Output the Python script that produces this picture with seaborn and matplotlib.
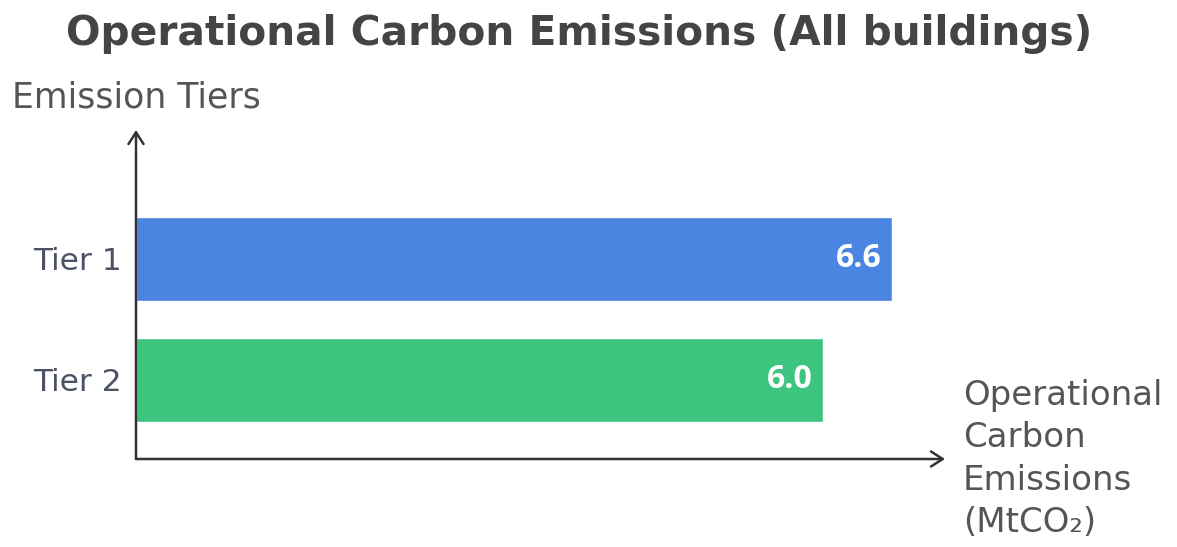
import matplotlib
matplotlib.use("Agg")
import matplotlib.pyplot as plt
import seaborn as sns
import pandas as pd

# Chart data
tiers = ["Tier 1", "Tier 2"]
emissions = [6.6, 6.0]
value_labels = ["6.6", "6.0"]
bar_colors = ["#4A86E1", "#3DC47E"]

title = "Operational Carbon Emissions (All buildings)"
y_title = "Emission Tiers"
x_title = "Operational\nCarbon\nEmissions\n(MtCO\u2082)"

sns.set_theme(style="white")
plt.rcParams["font.family"] = ["DejaVu Sans"]

W, H = 1177, 547
fig = plt.figure(figsize=(W / 100, H / 100), dpi=100)
fig.patch.set_facecolor("white")

# axes box in pixel terms: left 136, right 945, top 130, bottom 459
left, right, top, bottom = 136, 945, 130, 459
ax = fig.add_axes([left / W, (H - bottom) / H, (right - left) / W, (bottom - top) / H])

df = pd.DataFrame({"tier": tiers, "value": emissions})
sns.barplot(data=df, x="value", y="tier", hue="tier", palette=bar_colors,
            orient="h", width=0.69, legend=False, ax=ax, saturation=1)

ax.set_xlim(0, (right - left) / 114.5)
ax.set_ylim(1.653, -1.066)

for s in ax.spines.values():
    s.set_visible(False)
ax.set_xticks([])
ax.set_xlabel("")
ax.set_ylabel("")
ax.tick_params(axis="y", length=0, pad=10)
for lbl in ax.get_yticklabels():
    lbl.set_fontsize(22.5)
    lbl.set_color("#4A5263")

# axis arrows
arrow_kw = dict(arrowstyle="->,head_length=0.7,head_width=0.45", color="#333333", lw=1.8,
                shrinkA=0, shrinkB=0)
ax.annotate("", xy=(0, 1), xytext=(0, 0), xycoords="axes fraction", arrowprops=arrow_kw)
ax.annotate("", xy=(1, 0), xytext=(0, 0), xycoords="axes fraction", arrowprops=arrow_kw)

# value labels inside bar ends
for i, (v, t) in enumerate(zip(emissions, value_labels)):
    ax.text(v - 0.09, i, t, ha="right", va="center", color="white",
            fontsize=23, fontweight="bold", family=["Open Sans", "DejaVu Sans"])

fig.text(579 / W, 1 - 34 / H, title, ha="center", va="center",
         fontsize=29.3, fontweight="bold", color="#444444")
fig.text(12 / W, 1 - 98 / H, y_title, ha="left", va="center",
         fontsize=25, color="#555555")
fig.text(963 / W, 1 - 459 / H, x_title, ha="left", va="center",
         fontsize=24.5, color="#555555", linespacing=1.37)

fig.savefig("out.png", dpi=100, facecolor="white")
